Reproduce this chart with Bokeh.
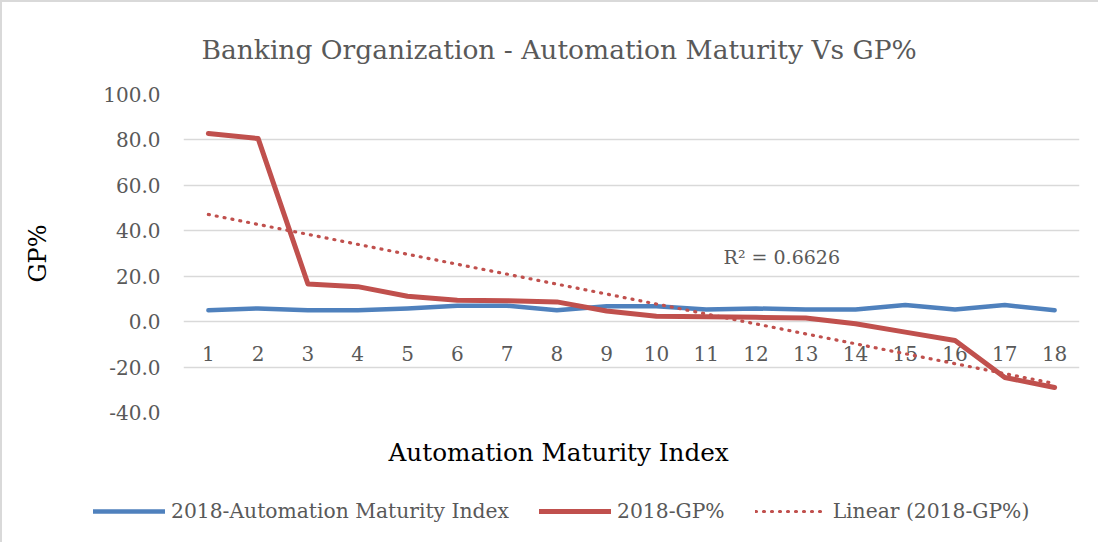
import numpy as np
from bokeh.plotting import figure
from bokeh.layouts import column
from bokeh.models import (Range1d, FixedTicker, NumeralTickFormatter, Label,
                          Legend, LegendItem, ColumnDataSource, Title)
from bokeh.core.properties import value
from bokeh.embed import file_html
from bokeh.resources import INLINE

# ---- data ----
categories = list(range(1, 19))
cat_labels = [str(c) for c in categories]
automation_index = [5.0, 5.8, 5.0, 5.0, 5.8, 7.0, 7.0, 5.0, 6.8, 6.8,
                    5.3, 5.8, 5.3, 5.3, 7.3, 5.3, 7.3, 5.0]
gp_pct = [82.8, 80.6, 16.6, 15.4, 11.2, 9.4, 9.2, 8.7, 4.7, 2.4,
          2.1, 1.9, 1.6, -0.9, -4.6, -8.3, -24.6, -29.0]
y_ticks = [-40, -20, 0, 20, 40, 60, 80, 100]
r2_text = "R\u00b2 = 0.6626"
title_text = "Banking Organization - Automation Maturity Vs GP%"
x_title = "Automation Maturity Index"
y_title = "GP%"
series_names = ["2018-Automation Maturity Index", "2018-GP%", "Linear (2018-GP%)"]

# linear trendline of GP% (least squares fit, as Excel does)
slope, intercept = np.polyfit(categories, gp_pct, 1)
trend = [slope * c + intercept for c in categories]

FONT = "DejaVu Serif"
GRAY = "#595959"
BLUE = "#4F81BD"
RED = "#C0504D"
BORDER = {"border-left": "2px solid #d9d9d9"}

p = figure(frame_width=894, frame_height=316,
           min_border_left=181, min_border_right=21,
           min_border_top=89, min_border_bottom=80,
           x_range=Range1d(0.5, 18.5), y_range=Range1d(-40, 100),
           output_backend="svg", toolbar_location=None,
           background_fill_color="white", border_fill_color="white")
p.styles = {"border-left": "2px solid #d9d9d9", "border-top": "2px solid #d9d9d9"}
p.outline_line_color = None

p.xaxis.visible = False
p.xgrid.visible = False
p.ygrid.grid_line_color = "#d9d9d9"
p.ygrid.grid_line_width = 1.5

ya = p.yaxis[0]
ya.ticker = FixedTicker(ticks=y_ticks)
ya.formatter = NumeralTickFormatter(format="0.0")
ya.axis_line_color = None
ya.major_tick_line_color = None
ya.minor_tick_line_color = None
ya.major_tick_out = 0
ya.major_tick_in = 0
ya.major_label_standoff = 23
ya.major_label_text_font = FONT
ya.major_label_text_font_size = "20px"
ya.major_label_text_color = GRAY
ya.axis_label = y_title
ya.axis_label_text_font = FONT
ya.axis_label_text_font_size = "24px"
ya.axis_label_text_font_style = "normal"
ya.axis_label_text_color = "black"
ya.axis_label_standoff = 48

src = ColumnDataSource(dict(x=categories, lab=cat_labels,
                            zero=[0] * len(categories),
                            auto=automation_index, gp=gp_pct, tr=trend))

# category labels next to the zero line
p.text(x="x", y="zero", text="lab", source=src, text_align="center",
       text_baseline="middle", y_offset=32, text_font=value(FONT),
       text_font_size="20px", text_color=GRAY)

line_styles = [dict(line_color=BLUE, line_width=4.5, line_join="round", line_cap="round"),
               dict(line_color=RED, line_width=5, line_join="round", line_cap="round"),
               dict(line_color=RED, line_width=3.2, line_dash="1 7", line_cap="round")]
cols = ["auto", "gp", "tr"]

for c, st in zip(cols, line_styles):
    p.line("x", c, source=src, **st)

p.add_layout(Label(x=11.35, y=28.4, text=r2_text, text_align="left",
                   text_baseline="middle", text_font=FONT,
                   text_font_size="19px", text_color=GRAY))

p.add_layout(Title(text=title_text, align="left", offset=18, standoff=59,
                   text_font=FONT, text_font_size="26.5px",
                   text_font_style="normal", text_color=GRAY), "above")
p.add_layout(Title(text=x_title, align="left", offset=205, standoff=46,
                   text_font=FONT, text_font_size="24.7px",
                   text_font_style="normal", text_color="black"), "below")

# legend strip below the chart (same series, same source)
p2 = figure(frame_width=1096, frame_height=52, min_border=0,
            x_range=Range1d(0, 1), y_range=Range1d(0, 1),
            output_backend="svg", toolbar_location=None,
            background_fill_color="white", border_fill_color="white")
p2.styles = BORDER
p2.outline_line_color = None
p2.xaxis.visible = False
p2.yaxis.visible = False
p2.grid.visible = False
leg_r = [p2.line("x", c, source=src, **st) for c, st in zip(cols, line_styles)]

legend = Legend(items=[LegendItem(label=n, renderers=[r]) for n, r in zip(series_names, leg_r)],
                orientation="horizontal", location=(91, 19),
                glyph_width=72, glyph_height=20, label_standoff=6,
                spacing=30, padding=0, margin=0,
                label_text_font=FONT, label_text_font_size="20.3px",
                label_text_color=GRAY, border_line_color=None,
                background_fill_alpha=0)
p2.add_layout(legend, "center")

open("out.html", "w").write(file_html(column(p, p2, spacing=0), INLINE))
